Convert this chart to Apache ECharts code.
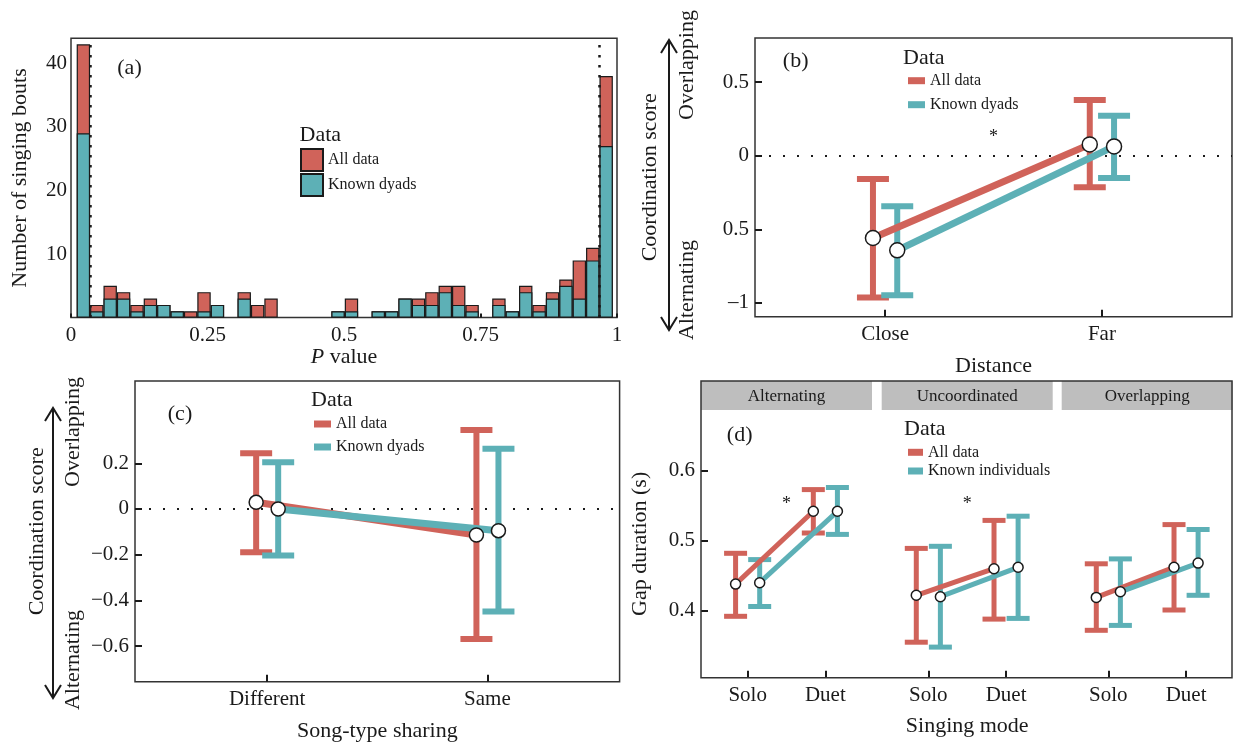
<!DOCTYPE html>
<html>
<head>
<meta charset="utf-8">
<title>Duet coordination</title>
<script src="https://cdn.jsdelivr.net/npm/echarts@6.0.0/dist/echarts.min.js"></script>
<style>
  html, body { margin: 0; padding: 0; background: #fff; }
  #main { width: 1234px; height: 746px; }
</style>
</head>
<body>
<div id="main"></div>
<script>
// ---------- data ----------
// (a) histogram of P values (40 bins)
const pBinStart = 0.0104;
const pBinWidth = 0.02455;
const boutsAll   = [43, 2, 5, 4, 2, 3, 2, 1, 1, 4, 2, 0, 4, 2, 3, 0, 0, 0, 0, 1,
                    3, 0, 1, 1, 3, 3, 4, 5, 5, 2, 0, 3, 1, 5, 2, 4, 6, 9, 11, 38];
const boutsKnown = [29, 1, 3, 3, 1, 2, 2, 1, 0, 1, 2, 0, 3, 0, 0, 0, 0, 0, 0, 1,
                    1, 0, 1, 1, 3, 2, 2, 4, 2, 1, 0, 2, 1, 4, 1, 3, 5, 3, 9, 27];
const pTicks = [0, 0.25, 0.5, 0.75, 1];
const boutTicks = [10, 20, 30, 40];

// (b) coordination score by distance
const distCats = ['Close', 'Far'];
const distAllMean   = [-0.559, 0.077];
const distAllLo     = [-0.963, -0.215];
const distAllHi     = [-0.158, 0.378];
const distKnownMean = [-0.643, 0.063];
const distKnownLo   = [-0.948, -0.152];
const distKnownHi   = [-0.344, 0.272];
const distTickValues = [-1, -0.5, 0, 0.5];
const distTickLabels = ['\u20131', '0.5', '0', '0.5'];
const distStar = [1.5, 0.154];

// (c) coordination score by song-type sharing
const shareCats = ['Different', 'Same'];
const shareAllMean   = [0.029, -0.114];
const shareAllLo     = [-0.19, -0.569];
const shareAllHi     = [0.244, 0.346];
const shareKnownMean = [0.0, -0.095];
const shareKnownLo   = [-0.204, -0.449];
const shareKnownHi   = [0.204, 0.263];
const shareTickValues = [-0.6, -0.4, -0.2, 0, 0.2];
const shareTickLabels = ['\u22120.6', '\u22120.4', '\u22120.2', '0', '0.2'];

// (d) gap duration by singing mode, per coordination class
const facetNames = ['Alternating', 'Uncoordinated', 'Overlapping'];
const modeCats = ['Solo', 'Duet'];
const gapAllMean   = [[0.438, 0.542], [0.422, 0.460], [0.419, 0.462]];
const gapAllLo     = [[0.392, 0.511], [0.355, 0.388], [0.372, 0.401]];
const gapAllHi     = [[0.482, 0.573], [0.489, 0.529], [0.467, 0.523]];
const gapKnownMean = [[0.440, 0.542], [0.420, 0.462], [0.427, 0.468]];
const gapKnownLo   = [[0.406, 0.509], [0.348, 0.389], [0.379, 0.422]];
const gapKnownHi   = [[0.473, 0.576], [0.492, 0.535], [0.474, 0.516]];
const gapTicks = [0.4, 0.5, 0.6];
const gapStars = [[0, 1.5, 0.558], [1, 1.5, 0.558]]; // [facet, x, y]

// ---------- style ----------
const RED = '#d0635a';
const TEAL = '#5db0b6';
const INK = '#1a1a1a';
const FONT = "'Liberation Serif', 'DejaVu Serif', serif";

const myChart = echarts.init(document.getElementById('main'));

function txt(x, y, text, size, extra) {
  return Object.assign({
    type: 'text', x: x, y: y,
    style: { text: text, font: size + 'px ' + FONT, fill: INK, align: 'center', verticalAlign: 'middle' }
  }, extra || {});
}

function leftTxt(x, y, text, size) {
  return {
    type: 'text', x: x, y: y,
    style: { text: text, font: size + 'px ' + FONT, fill: INK, align: 'left', verticalAlign: 'middle' }
  };
}

// double headed arrow next to the coordination score axis
function arrow(x, y1, y2) {
  const st = { stroke: INK, lineWidth: 2, fill: null };
  return [
    { type: 'line', shape: { x1: x, y1: y1, x2: x, y2: y2 }, style: st },
    { type: 'polyline', shape: { points: [[x - 8, y1 + 13], [x, y1], [x + 8, y1 + 13]] }, style: st },
    { type: 'polyline', shape: { points: [[x - 8, y2 - 13], [x, y2], [x + 8, y2 - 13]] }, style: st }
  ];
}

function errorBars(capHalf, barW, capW) {
  return function (params, api) {
    const x = api.value(0);
    const lo = api.coord([x, api.value(1)]);
    const hi = api.coord([x, api.value(2)]);
    const color = api.visual('color');
    const seg = (x1, y1, x2, y2, w) => ({
      type: 'line', shape: { x1: x1, y1: y1, x2: x2, y2: y2 }, style: { stroke: color, lineWidth: w }
    });
    return {
      type: 'group',
      children: [
        seg(lo[0], lo[1], hi[0], hi[1], barW),
        seg(hi[0] - capHalf, hi[1], hi[0] + capHalf, hi[1], capW),
        seg(lo[0] - capHalf, lo[1], lo[0] + capHalf, lo[1], capW)
      ]
    };
  };
}

function starItem(params, api) {
  const p = api.coord([api.value(0), api.value(1)]);
  return {
    type: 'text', x: p[0], y: p[1] + 4,
    style: { text: '*', font: '18px ' + FONT, fill: INK, align: 'center', verticalAlign: 'middle' }
  };
}

// error bars + connecting line + points for one group
function groupSeries(axis, name, color, offset, means, los, his, sz) {
  const pts = means.map((m, i) => [i + 1 + offset, m]);
  return [
    {
      type: 'custom', name: name, xAxisIndex: axis, yAxisIndex: axis, z: 2, silent: true,
      itemStyle: { color: color },
      renderItem: errorBars(sz.cap, sz.bar, sz.capW),
      encode: { x: 0, y: [1, 2] },
      data: means.map((m, i) => [i + 1 + offset, los[i], his[i]])
    },
    {
      type: 'line', name: name, xAxisIndex: axis, yAxisIndex: axis, z: 3, silent: true,
      symbol: 'none', lineStyle: { color: color, width: sz.line }, itemStyle: { color: color },
      data: pts
    },
    {
      type: 'scatter', name: name, xAxisIndex: axis, yAxisIndex: axis, z: 4, silent: true,
      symbolSize: sz.pt, itemStyle: { color: '#fff', borderColor: INK, borderWidth: 1.5, opacity: 1 },
      data: pts
    }
  ];
}

const tickFont = { fontFamily: FONT, fontSize: 21, color: INK };
const nameFont = { fontFamily: FONT, fontSize: 22, color: INK };
const tickLine = { color: INK, width: 2 };

function catXAxis(grid, labels, name, nameGap) {
  return {
    type: 'value', gridIndex: grid, min: 0.4, max: 2.6,
    axisLine: { show: false, onZero: false }, splitLine: { show: false },
    axisTick: { show: true, inside: true, length: 7, customValues: [1, 2], lineStyle: tickLine },
    axisLabel: Object.assign({ customValues: [1, 2], margin: 7, formatter: v => labels[Math.round(v) - 1] }, tickFont),
    name: name, nameLocation: 'middle', nameGap: nameGap, nameTextStyle: nameFont
  };
}

function valYAxis(grid, min, max, values, labels, name, nameGap, show) {
  return {
    type: 'value', gridIndex: grid, min: min, max: max, show: show,
    axisLine: { show: false, onZero: false }, splitLine: { show: false },
    axisTick: { show: true, inside: true, length: 7, customValues: values, lineStyle: tickLine },
    axisLabel: Object.assign({
      customValues: values, margin: 6,
      formatter: v => labels[values.indexOf(v)]
    }, tickFont),
    name: name, nameLocation: 'middle', nameGap: nameGap, nameRotate: 90, nameTextStyle: nameFont
  };
}

const bSize = { cap: 16, bar: 6, capW: 6, line: 7, pt: 15 };
const cSize = { cap: 16, bar: 6, capW: 6, line: 7, pt: 14 };
const dSize = { cap: 11.5, bar: 5, capW: 5, line: 5, pt: 10 };
const dodgeB = 0.056, dodgeC = 0.05, dodgeD = 0.155;

const facetLeft = [701, 881.7, 1061.7];
const facetWidth = 171;

// ---------- grids ----------
const grids = [
  { left: 71, top: 38.3, width: 546, height: 279.3, show: true, borderColor: '#333', borderWidth: 1.5 },
  { left: 755, top: 38, width: 477, height: 278.7, show: true, borderColor: '#333', borderWidth: 1.5 },
  { left: 135, top: 381, width: 484.6, height: 300.7, show: true, borderColor: '#333', borderWidth: 1.5 }
];
facetLeft.forEach(l => grids.push({ left: l, top: 410, width: facetWidth, height: 267.7 }));

// ---------- axes ----------
const xAxes = [
  {
    type: 'value', gridIndex: 0, min: 0, max: 1,
    axisLine: { show: false, onZero: false }, splitLine: { show: false },
    axisTick: { show: true, inside: true, length: 4, customValues: pTicks, lineStyle: tickLine },
    axisLabel: Object.assign({ customValues: pTicks, margin: 7 }, tickFont),
    name: '{i|P} value', nameLocation: 'middle', nameGap: 28,
    nameTextStyle: Object.assign({ rich: { i: Object.assign({ fontStyle: 'italic' }, nameFont) } }, nameFont)
  },
  catXAxis(1, distCats, 'Distance', 39),
  catXAxis(2, shareCats, 'Song-type sharing', 39)
];
facetLeft.forEach((l, k) => xAxes.push(catXAxis(3 + k, modeCats, k === 1 ? 'Singing mode' : '', 38)));

const yAxes = [
  {
    type: 'value', gridIndex: 0, min: 0, max: 43.94,
    axisLine: { show: false, onZero: false }, splitLine: { show: false }, axisTick: { show: false },
    axisLabel: Object.assign({ customValues: boutTicks, margin: 4 }, tickFont),
    name: 'Number of singing bouts', nameLocation: 'middle', nameGap: 40, nameRotate: 90, nameTextStyle: nameFont
  },
  valYAxis(1, -1.094, 0.8, distTickValues, distTickLabels, 'Coordination score', 94, true),
  valYAxis(2, -0.756, 0.56, shareTickValues, shareTickLabels, 'Coordination score', 87, true)
];
facetLeft.forEach((l, k) => yAxes.push(valYAxis(3 + k, 0.3043, 0.6867, gapTicks, gapTicks.map(String),
  k === 0 ? 'Gap duration (s)' : '', 50, k === 0)));

// ---------- series ----------
const histBar = (name, counts, color, extra) => Object.assign({
  type: 'bar', name: name, xAxisIndex: 0, yAxisIndex: 0, silent: true,
  barWidth: pBinWidth * 546, barGap: '-100%',
  itemStyle: { color: color, borderColor: INK, borderWidth: 1.2 },
  data: counts.map((c, i) => [pBinStart + (i + 0.5) * pBinWidth, c]).filter(d => d[1] > 0)
}, extra || {});

const zeroLine = {
  silent: true, symbol: 'none', z: 1, label: { show: false },
  lineStyle: { color: INK, type: [2, 12], width: 2 },
  data: [{ yAxis: 0 }]
};

const series = [
  histBar('All data', boutsAll, RED),
  histBar('Known dyads', boutsKnown, TEAL, {
    markLine: {
      silent: true, symbol: 'none', label: { show: false },
      lineStyle: { color: INK, type: [2.5, 7.5], width: 2.5 },
      data: [
        [{ coord: [pBinStart + pBinWidth, 0] }, { coord: [pBinStart + pBinWidth, 43] }],
        [{ coord: [pBinStart + 39 * pBinWidth, 0] }, { coord: [pBinStart + 39 * pBinWidth, 43] }]
      ]
    }
  })
];

const bRed = groupSeries(1, 'All data', RED, -dodgeB, distAllMean, distAllLo, distAllHi, bSize);
bRed[0].markLine = zeroLine;
series.push(...bRed,
  ...groupSeries(1, 'Known dyads', TEAL, dodgeB, distKnownMean, distKnownLo, distKnownHi, bSize));
series.push({ type: 'custom', xAxisIndex: 1, yAxisIndex: 1, silent: true, z: 5, renderItem: starItem, data: [distStar] });

const cRed = groupSeries(2, 'All data', RED, -dodgeC, shareAllMean, shareAllLo, shareAllHi, cSize);
cRed[0].markLine = zeroLine;
series.push(...cRed,
  ...groupSeries(2, 'Known dyads', TEAL, dodgeC, shareKnownMean, shareKnownLo, shareKnownHi, cSize));

facetNames.forEach((f, k) => {
  series.push(...groupSeries(3 + k, 'All data', RED, -dodgeD, gapAllMean[k], gapAllLo[k], gapAllHi[k], dSize));
  series.push(...groupSeries(3 + k, 'Known individuals', TEAL, dodgeD, gapKnownMean[k], gapKnownLo[k], gapKnownHi[k], dSize));
  const stars = gapStars.filter(s => s[0] === k).map(s => [s[1], s[2]]);
  if (stars.length) {
    series.push({ type: 'custom', xAxisIndex: 3 + k, yAxisIndex: 3 + k, silent: true, z: 5, renderItem: starItem, data: stars });
  }
});

// ---------- legends ----------
const legendText = { fontFamily: FONT, fontSize: 16, color: INK };
const swatch = (name, color) => ({ name: name, itemStyle: { color: color, borderWidth: 0 } });
const legends = [
  {
    left: 300, top: 148, orient: 'vertical', padding: 0, icon: 'rect', selectedMode: false,
    itemWidth: 22, itemHeight: 22, itemGap: 1, textStyle: legendText,
    data: [
      { name: 'All data', itemStyle: { color: RED, borderColor: INK, borderWidth: 2 } },
      { name: 'Known dyads', itemStyle: { color: TEAL, borderColor: INK, borderWidth: 2 } }
    ]
  },
  {
    left: 908, top: 72.7, orient: 'vertical', padding: 0, icon: 'rect', selectedMode: false,
    itemWidth: 17, itemHeight: 7, itemGap: 8, textStyle: legendText,
    data: [swatch('All data', RED), swatch('Known dyads', TEAL)]
  },
  {
    left: 314, top: 416, orient: 'vertical', padding: 0, icon: 'rect', selectedMode: false,
    itemWidth: 17, itemHeight: 7, itemGap: 7, textStyle: legendText,
    data: [swatch('All data', RED), swatch('Known dyads', TEAL)]
  },
  {
    left: 908, top: 444.3, orient: 'vertical', padding: 0, icon: 'rect', selectedMode: false,
    itemWidth: 15, itemHeight: 7, itemGap: 2.7, textStyle: legendText,
    data: [swatch('All data', RED), swatch('Known individuals', TEAL)]
  }
];

// ---------- annotations ----------
const graphics = [
  txt(129.5, 68, '(a)', 22), txt(795.7, 61.7, '(b)', 22), txt(180, 414, '(c)', 22), txt(739.7, 435, '(d)', 22),
  leftTxt(299.6, 135, 'Data', 22), leftTxt(903, 58, 'Data', 22),
  leftTxt(311, 400, 'Data', 22), leftTxt(904, 429, 'Data', 22),
  txt(687, 65, 'Overlapping', 22, { rotation: Math.PI / 2 }),
  txt(687, 290, 'Alternating', 22, { rotation: Math.PI / 2 }),
  txt(73.6, 432, 'Overlapping', 22, { rotation: Math.PI / 2 }),
  txt(73.6, 660, 'Alternating', 22, { rotation: Math.PI / 2 }),
  ...arrow(669, 40, 330),
  ...arrow(53, 408, 698)
];
facetNames.forEach((f, k) => {
  graphics.push({
    type: 'rect', z: 0, shape: { x: facetLeft[k], y: 381, width: facetWidth, height: 29 },
    style: { fill: '#bebebe' }
  });
  graphics.push(txt(facetLeft[k] + facetWidth / 2, 396.5, f, 17));
});
graphics.push({
  type: 'rect', z: 10, shape: { x: 701, y: 381, width: 531, height: 296.7 },
  style: { fill: null, stroke: '#333', lineWidth: 1.5 }
});

const option = {
  animation: false,
  backgroundColor: '#fff',
  grid: grids,
  xAxis: xAxes,
  yAxis: yAxes,
  legend: legends,
  series: series,
  graphic: graphics
};
myChart.setOption(option);
</script>
</body>
</html>
